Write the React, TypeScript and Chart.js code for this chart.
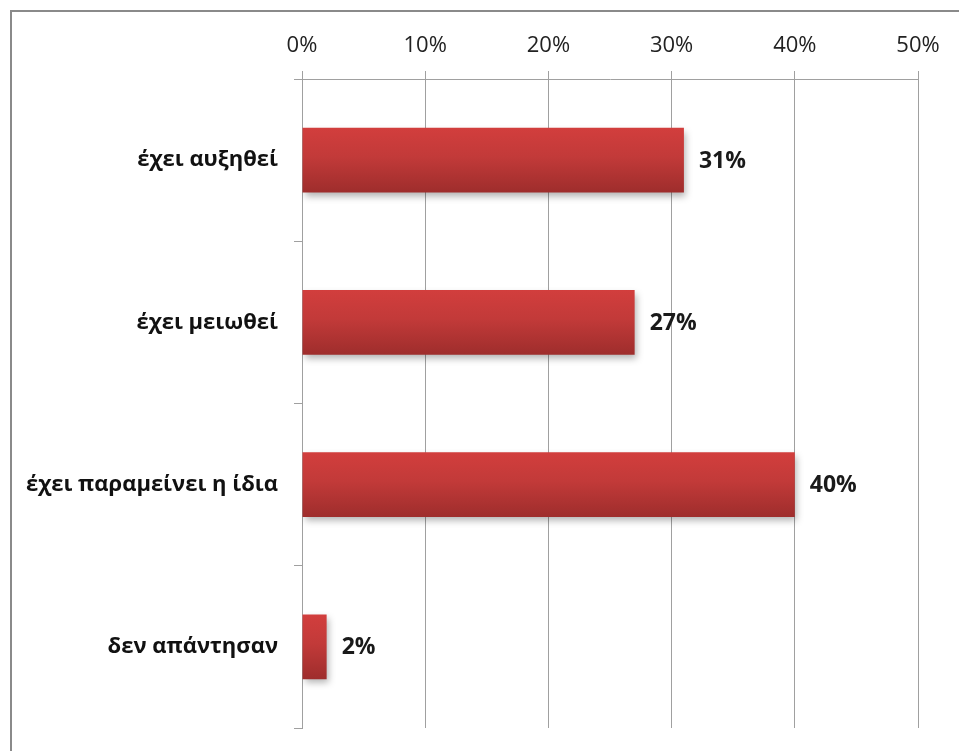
import React, { useEffect, useRef } from "react";
import { Chart, registerables } from "chart.js";

Chart.register(...registerables);

const categories = ["έχει αυξηθεί", "έχει μειωθεί", "έχει παραμείνει η ίδια", "δεν απάντησαν"];
const values = [31, 27, 40, 2];
const axisMin = 0;
const axisMax = 50;
const axisStep = 10;

const FONT = "'Open Sans', 'DejaVu Sans', sans-serif";
const GRID = "#a0a0a0";
const BAR_PCT = 0.4;

const framePlugin = {
  id: "frame",
  afterDraw(chart: any) {
    const ctx = chart.ctx;
    ctx.save();
    ctx.strokeStyle = "#8a8a8a";
    ctx.lineWidth = 2;
    ctx.strokeRect(11, 11, 3000, 3000);
    ctx.restore();
  },
};

const shadowPlugin = {
  id: "barShadow",
  beforeDatasetsDraw(chart: any) {
    const ctx = chart.ctx;
    ctx.save();
    ctx.shadowColor = "rgba(0,0,0,0.3)";
    ctx.shadowBlur = 7;
    ctx.shadowOffsetX = 2;
    ctx.shadowOffsetY = 4;
  },
  afterDatasetsDraw(chart: any) {
    chart.ctx.restore();
  },
};

const labelPlugin = {
  id: "valueLabels",
  afterDatasetsDraw(chart: any) {
    const ctx = chart.ctx;
    const meta = chart.getDatasetMeta(0);
    ctx.save();
    ctx.font = `bold 23px ${FONT}`;
    ctx.fillStyle = "#1a1a1a";
    ctx.textAlign = "left";
    ctx.textBaseline = "middle";
    meta.data.forEach((el: any, i: number) => {
      ctx.fillText(`${values[i]}%`, el.x + 15, el.y + 1);
    });
    ctx.restore();
  },
};

function barGradient(c: any) {
  const chart = c.chart;
  const ys = chart.scales && chart.scales.y;
  if (!ys || !chart.chartArea || c.dataIndex === undefined) return "#c53a39";
  const center = ys.getPixelForValue(c.dataIndex);
  const h = ((chart.chartArea.bottom - chart.chartArea.top) / categories.length) * BAR_PCT;
  const g = chart.ctx.createLinearGradient(0, center - h / 2, 0, center + h / 2);
  g.addColorStop(0, "#d23e3d");
  g.addColorStop(0.45, "#c23a39");
  g.addColorStop(1, "#9e2d2c");
  return g;
}

export default function App() {
  const ref = useRef<HTMLCanvasElement | null>(null);
  useEffect(() => {
    if (!ref.current) return;
    const chart = new Chart(ref.current, {
      type: "bar",
      data: {
        labels: categories,
        datasets: [
          {
            data: values,
            backgroundColor: barGradient,
            borderWidth: 0,
            categoryPercentage: 1,
            barPercentage: BAR_PCT,
          },
        ],
      },
      options: {
        indexAxis: "y",
        animation: false,
        responsive: false,
        events: [],
        layout: { padding: { left: 0, top: 0, right: 41, bottom: 23 } },
        plugins: { legend: { display: false }, tooltip: { enabled: false } },
        scales: {
          x: {
            position: "top",
            min: axisMin,
            max: axisMax,
            ticks: {
              stepSize: axisStep,
              padding: 12,
              color: "#222",
              font: { family: FONT, size: 22 },
              callback: (v: any) => `${v}%`,
            },
            grid: { color: GRID, lineWidth: 1, tickLength: 8 },
            border: { display: true, color: GRID },
            afterFit: (s: any) => {
              s.height = 79;
              s.paddingLeft = 0;
              s.paddingRight = 0;
            },
          },
          y: {
            type: "category",
            ticks: {
              padding: 16,
              color: "#111",
              font: { family: FONT, size: 22, weight: "bold" },
            },
            grid: { offset: true, drawOnChartArea: false, color: GRID, tickLength: 8 },
            border: { display: true, color: GRID },
            afterFit: (s: any) => {
              s.width = 302;
              s.paddingTop = 0;
              s.paddingBottom = 0;
            },
          },
        },
      },
      plugins: [shadowPlugin, labelPlugin, framePlugin],
    });
    return () => chart.destroy();
  }, []);
  return (
    <div style={{ position: "absolute", left: 0, top: 0, width: 959, height: 751, background: "#fff" }}>
      <canvas ref={ref} width={959} height={751} />
    </div>
  );
}
